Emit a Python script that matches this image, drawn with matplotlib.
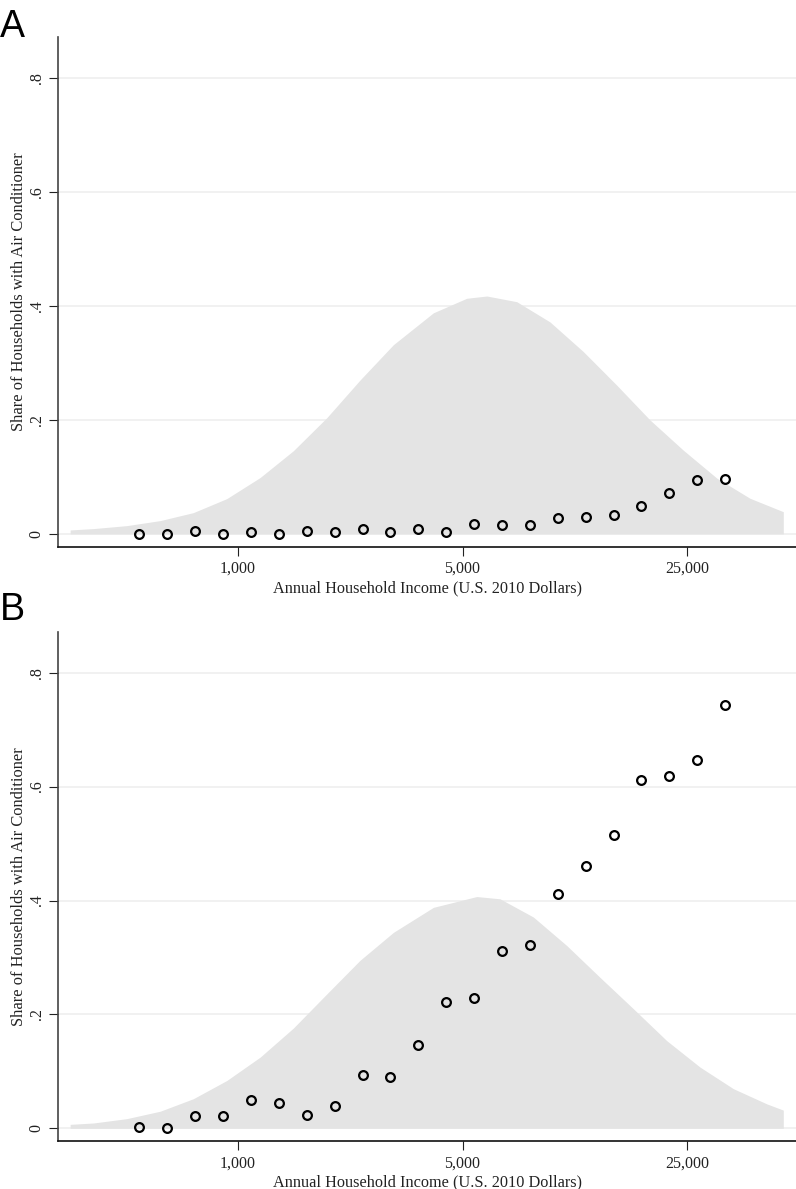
import numpy as np
import matplotlib
matplotlib.use("Agg")
import matplotlib.pyplot as plt

# bin centres, log of annual household income
log_income = [6.2, 6.4, 6.6, 6.8, 7.0, 7.2, 7.4, 7.6, 7.8, 8.0, 8.2,
              8.4, 8.6, 8.8, 9.0, 9.2, 9.4, 9.6, 9.8, 10.0, 10.2, 10.4]

share_a = [0.000, 0.000, 0.006, 0.000, 0.003, 0.000, 0.005, 0.004, 0.008, 0.003, 0.009,
           0.004, 0.017, 0.016, 0.016, 0.028, 0.030, 0.033, 0.049, 0.071, 0.095, 0.097]
share_b = [0.002, 0.000, 0.022, 0.022, 0.050, 0.044, 0.024, 0.040, 0.093, 0.091, 0.147,
           0.221, 0.228, 0.311, 0.322, 0.411, 0.460, 0.515, 0.612, 0.618, 0.647, 0.744]

# income density (scaled)
dens_x_a = [5.704, 5.871, 6.110, 6.349, 6.587, 6.827, 7.066, 7.304, 7.544, 7.782, 8.021, 8.308,
            8.547, 8.691, 8.906, 9.144, 9.383, 9.623, 9.861, 10.100, 10.340, 10.578, 10.817]
dens_y_a = [0.007, 0.0094, 0.0146, 0.0234, 0.0374, 0.062, 0.099, 0.146, 0.204, 0.270, 0.332, 0.388,
            0.4135, 0.4175, 0.4075, 0.372, 0.320, 0.261, 0.200, 0.147, 0.098, 0.0626, 0.039]
dens_x_b = [5.704, 5.871, 6.110, 6.349, 6.587, 6.827, 7.066, 7.304, 7.544, 7.782, 8.021, 8.308,
            8.619, 8.786, 9.025, 9.264, 9.503, 9.742, 9.981, 10.220, 10.459, 10.698, 10.817]
dens_y_b = [0.007, 0.0094, 0.017, 0.030, 0.052, 0.084, 0.125, 0.176, 0.236, 0.295, 0.344, 0.388,
            0.407, 0.403, 0.371, 0.321, 0.265, 0.210, 0.154, 0.1075, 0.0696, 0.043, 0.032]

tick_income = [1000, 5000, 25000]
tick_labels = ["1,000", "5,000", "25,000"]
y_ticks = [0, 0.2, 0.4, 0.6, 0.8]
y_labels = ["0", ".2", ".4", ".6", ".8"]

plt.rcParams['font.family'] = ['Liberation Serif', 'DejaVu Serif']

fig = plt.figure(figsize=(7.96, 11.89), dpi=100)

panels = [("A", share_a, dens_x_a, dens_y_a, [0.0729, 0.5400, 0.9271, 0.4289], 0.9689),
          ("B", share_b, dens_x_b, dens_y_b, [0.0729, 0.0401, 0.9271, 0.4286], 0.4786)]

for letter, share, dx, dy, rect, ly in panels:
    ax = fig.add_axes(rect)
    ax.fill_between(dx, 0, dy, color="#e4e4e4", lw=0, zorder=1)
    ax.plot(log_income, share, "o", ms=6.3, mfc="none", mec="black", mew=1.6, zorder=3)

    ax.set_xlim(5.617, 10.908)
    ax.set_ylim(-0.0228, 0.872)
    ax.set_xticks(np.log(tick_income))
    ax.set_xticklabels(tick_labels, fontsize=11.5)
    ax.set_yticks(y_ticks)
    ax.set_yticklabels(y_labels, fontsize=11.5, rotation=90, va="center")
    for t in y_ticks:
        ax.axhline(t, color="#eeeeee", lw=1.1, zorder=0)

    ax.tick_params(axis="x", length=6.5, width=0.8, pad=3.5, colors="#222222")
    ax.tick_params(axis="y", length=6.5, width=0.8, pad=3, colors="#222222")
    for s in ["top", "right"]:
        ax.spines[s].set_visible(False)
    ax.spines["left"].set_color("#444444")
    ax.spines["left"].set_linewidth(1.2)
    ax.spines["bottom"].set_color("#111111")
    ax.spines["bottom"].set_linewidth(1.2)

    ax.set_xlabel("Annual Household Income (U.S. 2010 Dollars)", fontsize=11.7, labelpad=2.5, color="#222222")
    ax.set_ylabel("Share of Households with Air Conditioner", fontsize=11.9, labelpad=1.5, color="#222222")

    fig.text(0.0, ly, letter, fontsize=27, family="Liberation Sans", ha="left", va="baseline")

fig.savefig("out.png", dpi=100)
